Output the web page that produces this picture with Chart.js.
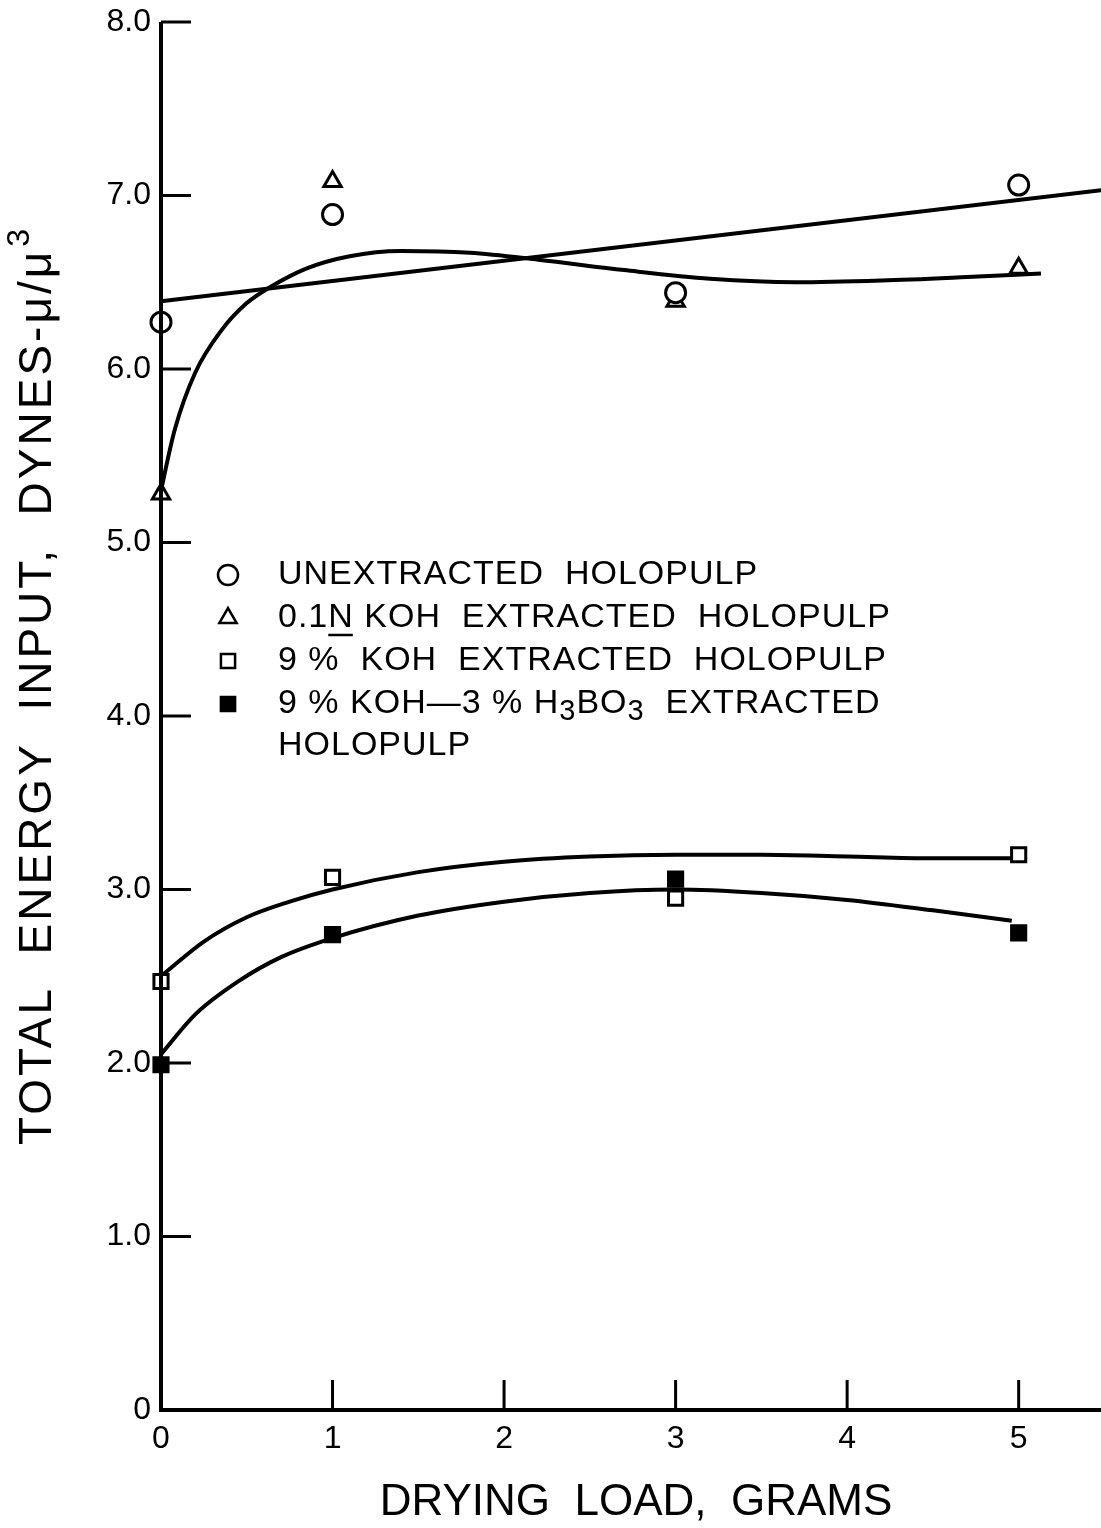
<!DOCTYPE html>
<html>
<head>
<meta charset="utf-8">
<script src="https://cdn.jsdelivr.net/npm/chart.js@4.4.1/dist/chart.umd.min.js"></script>
<style>
html,body{margin:0;padding:0;background:#fff;}
#wrap{width:1101px;height:1528px;position:relative;}
</style>
</head>
<body>
<div id="wrap"><canvas id="c" width="1101" height="1528"></canvas></div>
<script>
// ---- data ----
const xTicks = [0, 1, 2, 3, 4, 5];
const yTicks = [0, 1, 2, 3, 4, 5, 6, 7, 8];
const loads = [0, 1, 3, 5];
const unextracted = [6.27, 6.89, 6.44, 7.06];
const koh01N = [5.28, 7.08, 6.39, 6.58];
const koh9 = [2.47, 3.07, 2.95, 3.20];
const koh9boric = [1.99, 2.74, 3.06, 2.75];

// drawn curves
const lineUnextX = [0, 5.48];
const lineUnextY = [6.39, 7.03];
const curve01NX = [0, 0.08, 0.2, 0.35, 0.5, 0.65, 0.85, 1.1, 1.4, 1.8, 2.2, 2.7, 3.2, 3.7, 4.2, 4.7, 5.13];
const curve01NY = [5.30, 5.65, 5.98, 6.22, 6.38, 6.48, 6.58, 6.65, 6.68, 6.67, 6.63, 6.57, 6.52, 6.50, 6.51, 6.53, 6.55];
const curve9X = [0, 0.25, 0.5, 0.75, 1.0, 1.5, 2.0, 2.5, 3.0, 3.5, 4.0, 4.5, 4.96];
const curve9Y = [2.50, 2.70, 2.84, 2.93, 3.00, 3.10, 3.16, 3.19, 3.20, 3.20, 3.19, 3.18, 3.18];
const curveBX = [0, 0.2, 0.45, 0.7, 1.0, 1.5, 2.0, 2.5, 3.0, 3.5, 4.0, 4.5, 4.96];
const curveBY = [2.05, 2.28, 2.47, 2.61, 2.72, 2.85, 2.93, 2.98, 3.00, 2.98, 2.94, 2.88, 2.82];

const legendLabels = ['UNEXTRACTED  HOLOPULP', '0.1N KOH  EXTRACTED  HOLOPULP', '9 %  KOH  EXTRACTED  HOLOPULP', '9 % KOH\u20143 % H\u2083BO\u2083  EXTRACTED', 'HOLOPULP'];
const xTitle = 'DRYING  LOAD,  GRAMS';
const yTitle = 'TOTAL  ENERGY  INPUT,  DYNES-\u03BC/\u03BC';

const FONT = '"Liberation Sans", Arial, sans-serif';
const zip = (xs, ys) => xs.map((x, i) => ({x, y: ys[i]}));

const lineDs = (xs, ys) => ({
  type: 'line', data: zip(xs, ys), borderColor: '#000', borderWidth: 4,
  pointRadius: 0, tension: 0.4, cubicInterpolationMode: 'monotone', fill: false, order: 2, clip: false
});
const ptDs = (ys, style, fill, r) => ({
  type: 'scatter', data: zip(loads, ys), pointStyle: style, pointRadius: r,
  pointBackgroundColor: fill, pointBorderColor: '#000', pointBorderWidth: 3, order: 0, clip: false, showLine: false
});

const decor = {
  id: 'decor',
  afterDatasetsDraw(chart) {
    const ctx = chart.ctx, xs = chart.scales.x, ys = chart.scales.y, a = chart.chartArea;
    ctx.save();
    ctx.strokeStyle = '#000'; ctx.fillStyle = '#000'; ctx.lineCap = 'butt';
    ctx.lineWidth = 4;
    ctx.beginPath();
    ctx.moveTo(a.left, ys.getPixelForValue(8)); ctx.lineTo(a.left, a.bottom);
    ctx.moveTo(a.left - 2, a.bottom); ctx.lineTo(a.right, a.bottom);
    ctx.stroke();
    ctx.lineWidth = 3;
    ctx.beginPath();
    yTicks.forEach(v => { if (v === 0) return; const p = ys.getPixelForValue(v); ctx.moveTo(a.left, p); ctx.lineTo(a.left + 30, p); });
    xTicks.forEach(v => { if (v === 0) return; const p = xs.getPixelForValue(v); ctx.moveTo(p, a.bottom); ctx.lineTo(p, a.bottom - 30); });
    ctx.stroke();
    ctx.restore();
  },
  afterDraw(chart) {
    const ctx = chart.ctx;
    ctx.save();
    ctx.fillStyle = '#000'; ctx.strokeStyle = '#000';
    const ds = chart.data.datasets;
    const rowsY = [575, 618, 661, 704, 746];
    const mx = 228, tx = 278;
    for (let i = 0; i < 4; i++) {
      const d = ds[i];
      ctx.fillStyle = d.pointBackgroundColor;
      ctx.strokeStyle = '#000'; ctx.lineWidth = 2.5;
      Chart.helpers.drawPoint(ctx, {pointStyle: d.pointStyle, radius: 10, borderWidth: 2.5}, mx, rowsY[i]);
    }
    ctx.fillStyle = '#000';
    ctx.font = '34px ' + FONT;
    ctx.letterSpacing = '1px';
    ctx.textBaseline = 'middle'; ctx.textAlign = 'left';
    [0, 1, 2, 4].forEach(i => ctx.fillText(legendLabels[i], tx, rowsY[i]));
    const r4 = legendLabels[3];
    const parts = [];
    let buf = '';
    for (const ch of r4) {
      if (ch === '\u2083') { if (buf) parts.push([buf, false]); buf = ''; parts.push(['3', true]); }
      else buf += ch;
    }
    if (buf) parts.push([buf, false]);
    let px = tx;
    parts.forEach(([t, sub]) => {
      ctx.font = (sub ? '29px ' : '34px ') + FONT;
      ctx.fillText(t, px, rowsY[3] + (sub ? 8 : 0));
      px += ctx.measureText(t).width;
    });
    ctx.font = '34px ' + FONT;
    const w01 = ctx.measureText('0.1').width, wN = ctx.measureText('N').width;
    ctx.lineWidth = 2.5;
    ctx.beginPath(); ctx.moveTo(tx + w01, rowsY[1] + 17); ctx.lineTo(tx + w01 + wN - 1, rowsY[1] + 17); ctx.stroke();
    ctx.letterSpacing = '0px';
    ctx.font = '44px ' + FONT;
    ctx.textAlign = 'center'; ctx.textBaseline = 'middle';
    ctx.fillText(xTitle, 636, 1503);
    ctx.translate(38, 1145);
    ctx.rotate(-Math.PI / 2);
    ctx.textAlign = 'left';
    ctx.font = '46px ' + FONT;
    ctx.letterSpacing = '3px';
    ctx.fillText(yTitle, 0, 0);
    const w = ctx.measureText(yTitle).width;
    ctx.font = '32px ' + FONT;
    ctx.fillText('3', w + 2, -18);
    ctx.restore();
  }
};

new Chart(document.getElementById('c'), {
  data: {
    datasets: [
      ptDs(unextracted, 'circle', '#fff', 10),
      ptDs(koh01N, 'triangle', '#fff', 10),
      ptDs(koh9, 'rect', '#fff', 10),
      ptDs(koh9boric, 'rect', '#000', 10),
      lineDs(lineUnextX, lineUnextY),
      lineDs(curve01NX, curve01NY),
      lineDs(curve9X, curve9Y),
      lineDs(curveBX, curveBY)
    ]
  },
  options: {
    responsive: false, animation: false, devicePixelRatio: 1,
    layout: {autoPadding: false, padding: {top: 22, right: 0, left: 0, bottom: 0}},
    plugins: {legend: {display: false}, tooltip: {enabled: false}, title: {display: false}},
    scales: {
      x: {
        type: 'linear', min: 0, max: 5.48,
        afterFit: s => { s.height = 118; s.paddingLeft = 0; s.paddingRight = 0; },
        afterBuildTicks: s => { s.ticks = xTicks.map(v => ({value: v})); },
        grid: {display: false, drawTicks: false}, border: {display: false},
        ticks: {color: '#000', font: {family: FONT, size: 32}, padding: 10, maxRotation: 0, callback: v => String(v)}
      },
      y: {
        type: 'linear', min: 0, max: 8,
        afterFit: s => { s.width = 161; s.paddingTop = 0; s.paddingBottom = 0; },
        afterBuildTicks: s => { s.ticks = yTicks.map(v => ({value: v})); },
        grid: {display: false, drawTicks: false}, border: {display: false},
        ticks: {color: '#000', font: {family: FONT, size: 32}, padding: 10, callback: v => v === 0 ? '0' : v.toFixed(1)}
      }
    }
  },
  plugins: [decor]
});
</script>
</body>
</html>
